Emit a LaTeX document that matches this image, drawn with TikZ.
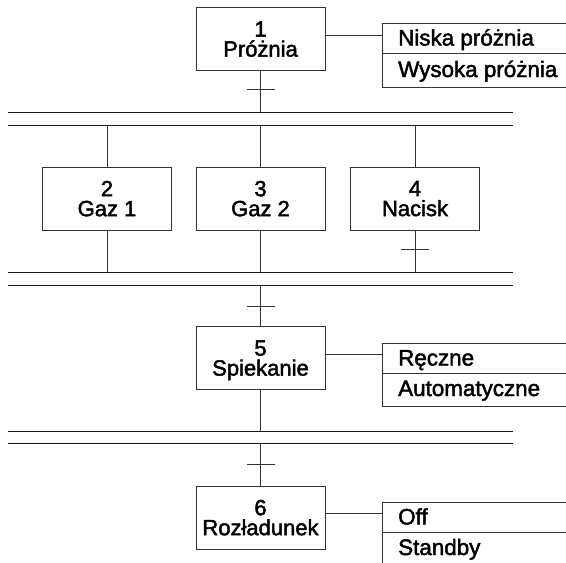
\documentclass[tikz,border=0pt]{standalone}
\usepackage{fontspec}
\setmainfont[FakeBold=2]{Liberation Sans}
\begin{document}
\begin{tikzpicture}[x=1pt,y=-1pt,
  ln/.style={line width=0.9pt, draw=black!80},
  bus/.style={line width=1pt, draw=black!90},
  stepbox/.style={ln, rectangle, minimum width=129pt, minimum height=63pt, inner sep=0pt,
    align=center, font=\fontsize{22}{20}\selectfont},
  acttext/.style={anchor=base west, inner sep=0pt, font=\fontsize{22.4}{24}\selectfont}]
\useasboundingbox (0,0) rectangle (566,563);
% step boxes
\node[stepbox] (s1) at (260.5,39) {1\\\smash{Próżnia}};
\node[stepbox] (s2) at (107,198.5) {2\\\smash{Gaz 1}};
\node[stepbox] (s3) at (260.5,198.5) {3\\\smash{Gaz 2}};
\node[stepbox] (s4) at (415,198.5) {4\\\smash{Nacisk}};
\node[stepbox] (s5) at (260.5,358) {5\\\smash{Spiekanie}};
\node[stepbox] (s6) at (260.5,517.5) {6\\\smash{Rozładunek}};
% buses (double lines)
\coordinate (b1L) at (8,112);   \coordinate (b1R) at (513,112);
\coordinate (b2L) at (8,125);   \coordinate (b2R) at (513,125);
\coordinate (b3L) at (8,272);   \coordinate (b3R) at (513,272);
\coordinate (b4L) at (8,285);   \coordinate (b4R) at (513,285);
\coordinate (b5L) at (8,431);   \coordinate (b5R) at (513,431);
\coordinate (b6L) at (8,443);   \coordinate (b6R) at (513,443);
\foreach \i in {1,...,6} {\draw[bus] (b\i L) -- (b\i R);}
% vertical links
\draw[ln] (s1.south) -- (s1.south |- b1L);
\draw[ln] (s2.north |- b2L) -- (s2.north);
\draw[ln] (s3.north |- b2L) -- (s3.north);
\draw[ln] (s4.north |- b2L) -- (s4.north);
\draw[ln] (s2.south) -- (s2.south |- b3L);
\draw[ln] (s3.south) -- (s3.south |- b3L);
\draw[ln] (s4.south) -- (s4.south |- b3L);
\draw[ln] (s5.north |- b4L) -- (s5.north);
\draw[ln] (s5.south) -- (s5.south |- b5L);
\draw[ln] (s6.north |- b6L) -- (s6.north);
% transitions (ticks)
\coordinate (t1) at (261,89);
\coordinate (t2) at (415,249);
\coordinate (t3) at (261,306);
\coordinate (t4) at (261,464);
\foreach \t in {t1,t2,t3,t4} {\draw[ln] ([xshift=-14pt]\t) -- ([xshift=14pt]\t);}
% action blocks
\coordinate (c1) at (382,35);
\coordinate (c5) at (382,354);
\coordinate (c6) at (382,513);
\draw[ln] (s1.east |- c1) -- (c1);
\draw[ln] (s5.east |- c5) -- (c5);
\draw[ln] (s6.east |- c6) -- (c6);
\draw[ln] (566,23) -- (382,23) -- (382,87) -- (566,87);
\draw[ln] (382,53) -- (566,53);
\draw[ln] (566,343) -- (382,343) -- (382,406) -- (566,406);
\draw[ln] (382,373) -- (566,373);
\draw[ln] (566,502) -- (382,502) -- (382,563);
\draw[ln] (382,532) -- (566,532);
\node[acttext] (a1a) at (398,45.5) {Niska próżnia};
\node[acttext] (a1b) at (398,77) {Wysoka próżnia};
\node[acttext] (a5a) at (398,365.5) {Ręczne};
\node[acttext] (a5b) at (398,396) {Automatyczne};
\node[acttext] (a6a) at (398,524.5) {Off};
\node[acttext] (a6b) at (398,555) {Standby};
\end{tikzpicture}
\end{document}
